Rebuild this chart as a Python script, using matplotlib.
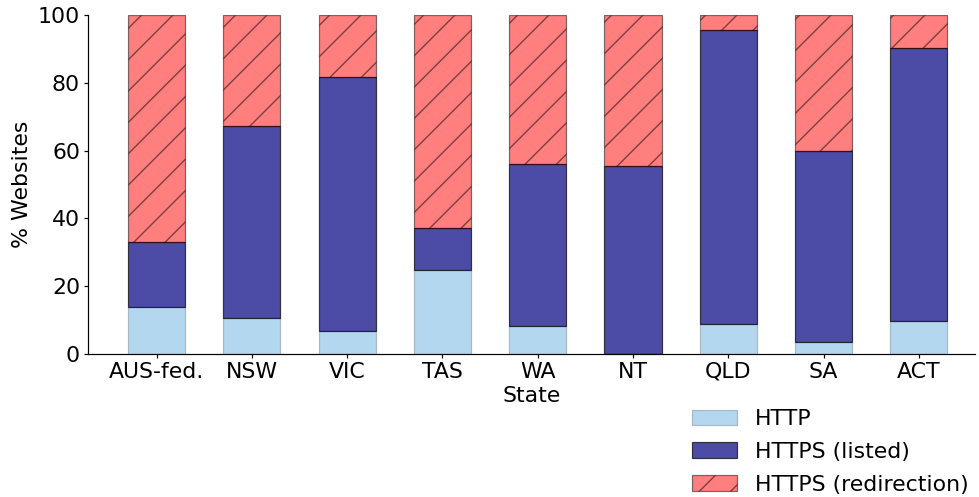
import matplotlib
matplotlib.use("Agg")
import matplotlib.pyplot as plt
import numpy as np

states = ["AUS-fed.", "NSW", "VIC", "TAS", "WA", "NT", "QLD", "SA", "ACT"]
http = [14.0, 10.6, 6.8, 24.8, 8.3, 0.0, 8.9, 3.5, 9.7]
https_total = [33.0, 67.2, 81.6, 37.3, 56.0, 55.6, 95.6, 60.0, 90.2]
https_listed = [t - h for t, h in zip(https_total, http)]
https_redirect = [100.0 - t for t in https_total]

# hatch spacing follows dpi (a '/' tile is one inch, 3 lines per tile)
DPI = 94
PT = 72.0 / DPI  # points per pixel
FS = 22 * PT

plt.rcParams['hatch.linewidth'] = 1.4 * PT
plt.rcParams['font.family'] = 'DejaVu Sans'

fig = plt.figure(figsize=(979 / DPI, 497 / DPI), dpi=DPI)
ax = fig.add_axes([88 / 979, 1 - 354 / 497, (975 - 88) / 979, (354 - 15) / 497])

x = np.arange(len(states))
w = 0.6
lw = 1.2 * PT

ax.bar(x, http, w, color='#b3d7ee', edgecolor='#a8b8c4', linewidth=lw,
       label='HTTP')
ax.bar(x, https_listed, w, bottom=http, color='navy', alpha=0.7,
       edgecolor='black', linewidth=lw, label='HTTPS (listed)')
ax.bar(x, https_redirect, w, bottom=https_total, color='red', alpha=0.5,
       edgecolor='black', hatch='/', linewidth=lw,
       label='HTTPS (redirection)')

ax.set_xlim(-0.72, 8.59)
ax.set_ylim(0, 100)
ax.set_yticks([0, 20, 40, 60, 80, 100])
ax.set_xticks(x)
ax.set_xticklabels(states)
ax.tick_params(labelsize=FS, width=1.2 * PT, length=4 * PT, pad=4 * PT)
ax.set_xlabel('State', fontsize=FS, labelpad=4 * PT)
ax.set_ylabel('% Websites', fontsize=FS, labelpad=6 * PT)

ax.spines['top'].set_visible(False)
ax.spines['right'].set_visible(False)
for s in ['left', 'bottom']:
    ax.spines[s].set_linewidth(1.2 * PT)

fig.legend(loc='upper left', bbox_to_anchor=(692 / 979, 1 - 409 / 497),
           frameon=False, fontsize=FS, borderpad=0, borderaxespad=0,
           handlelength=2.05, handleheight=0.7, handletextpad=0.8,
           labelspacing=0.58)

fig.savefig('out.png', dpi=DPI)
